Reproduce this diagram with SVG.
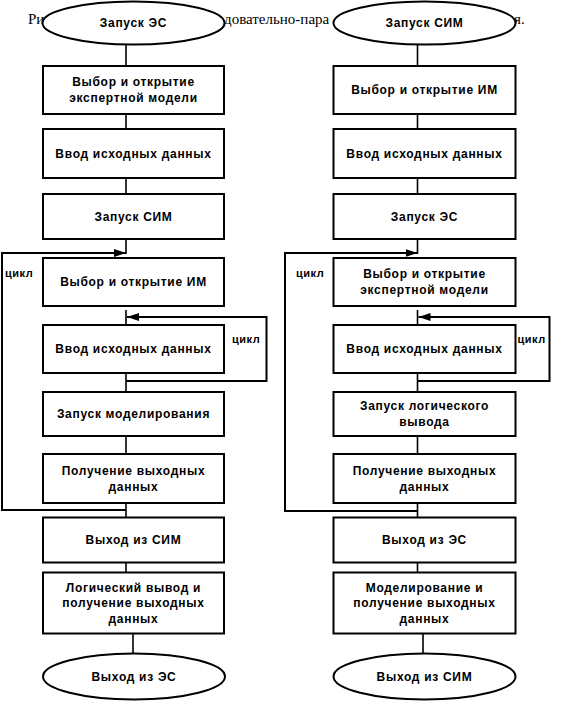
<svg xmlns="http://www.w3.org/2000/svg" width="567" height="712" viewBox="0 0 567 712">
<style>
.cap{font-family:"Liberation Serif","Times New Roman",serif;font-size:15px;fill:#000}
.box{fill:#fff;stroke:#000;stroke-width:2}
.ell{fill:#fff;stroke:#000;stroke-width:2}
.t{font-family:"Liberation Sans",Arial,sans-serif;font-size:12px;font-weight:bold;letter-spacing:0.7px;text-anchor:middle;fill:#000}
.c{fill:none;stroke:#000;stroke-width:1.6}
.l{fill:none;stroke:#000;stroke-width:2}
.lbl{font-family:"Liberation Sans",Arial,sans-serif;font-size:11px;font-weight:bold;letter-spacing:0.5px;fill:#000}
</style>
<defs>
<marker id="arr" markerUnits="userSpaceOnUse" markerWidth="13" markerHeight="9" refX="12" refY="4" orient="auto">
<path d="M0,0 L12,4 L0,8 z" fill="#000"/>
</marker>
</defs>
<rect width="567" height="712" fill="#fff"/>
<g id="caption">
<text class="cap" x="28" y="24">Ри</text>
<text class="cap" x="224" y="24">довательно-пара</text>
<text class="cap" x="514" y="24">я.</text>
</g>
<g id="connectors">
<line class="c" x1="126" y1="44" x2="126" y2="66"/>
<line class="c" x1="126" y1="114" x2="126" y2="129"/>
<line class="c" x1="126" y1="178" x2="126" y2="194"/>
<line class="c" x1="126" y1="239" x2="126" y2="254"/>
<line class="c" x1="126" y1="310" x2="126" y2="325"/>
<line class="c" x1="126" y1="373" x2="126" y2="392"/>
<line class="c" x1="126" y1="436" x2="126" y2="454"/>
<line class="c" x1="126" y1="503" x2="126" y2="517"/>
<line class="c" x1="126" y1="562" x2="126" y2="572"/>
<line class="c" x1="133" y1="633" x2="133" y2="654"/>
<path class="l" d="M126,510 H2 V253 H126" marker-end="url(#arr)"/>
<path class="l" d="M126,381 H266.5 V317 H127" marker-end="url(#arr)"/>
<line class="c" x1="417.5" y1="44" x2="417.5" y2="66"/>
<line class="c" x1="417.5" y1="114" x2="417.5" y2="129"/>
<line class="c" x1="417.5" y1="178" x2="417.5" y2="194"/>
<line class="c" x1="417.5" y1="239" x2="417.5" y2="254"/>
<line class="c" x1="417.5" y1="310" x2="417.5" y2="325"/>
<line class="c" x1="417.5" y1="373" x2="417.5" y2="392"/>
<line class="c" x1="417.5" y1="436" x2="417.5" y2="454"/>
<line class="c" x1="417.5" y1="503" x2="417.5" y2="517"/>
<line class="c" x1="417.5" y1="562" x2="417.5" y2="572"/>
<line class="c" x1="423" y1="633" x2="423" y2="654"/>
<path class="l" d="M417.5,511 H285 V253 H417.5" marker-end="url(#arr)"/>
<path class="l" d="M417.5,381 H549.5 V317 H418.5" marker-end="url(#arr)"/>
<text class="lbl" x="5" y="277">цикл</text>
<text class="lbl" x="232" y="343">цикл</text>
<text class="lbl" x="296" y="277">цикл</text>
<text class="lbl" x="517.5" y="343">цикл</text>
</g>
<g id="L0"><ellipse class="ell" cx="133.5" cy="23" rx="91" ry="21.5"/><text class="t" x="133.5" y="27">Запуск ЭС</text></g>
<g id="L1"><rect class="box" x="43" y="66" width="181" height="48"/><text class="t" x="133.5" y="86">Выбор и открытие</text><text class="t" x="133.5" y="101.5">экспертной модели</text></g>
<g id="L2"><rect class="box" x="43" y="129" width="181" height="49"/><text class="t" x="133.5" y="157.5">Ввод исходных данных</text></g>
<g id="L3"><rect class="box" x="43" y="194" width="181" height="45"/><text class="t" x="133.5" y="220.5">Запуск СИМ</text></g>
<g id="L4"><rect class="box" x="43" y="258" width="181" height="48"/><text class="t" x="133.5" y="286">Выбор и открытие ИМ</text></g>
<g id="L5"><rect class="box" x="43" y="325" width="181" height="48"/><text class="t" x="133.5" y="353">Ввод исходных данных</text></g>
<g id="L6"><rect class="box" x="43" y="392" width="181" height="44"/><text class="t" x="133.5" y="418">Запуск моделирования</text></g>
<g id="L7"><rect class="box" x="43" y="454" width="181" height="49"/><text class="t" x="133.5" y="475">Получение выходных</text><text class="t" x="133.5" y="490.5">данных</text></g>
<g id="L8"><rect class="box" x="43" y="517.5" width="181" height="45"/><text class="t" x="133.5" y="544">Выход из СИМ</text></g>
<g id="L9"><rect class="box" x="43" y="572.5" width="181" height="61"/><text class="t" x="133.5" y="591.5">Логический вывод и</text><text class="t" x="133.5" y="607">получение выходных</text><text class="t" x="133.5" y="622.5">данных</text></g>
<g id="L10"><ellipse class="ell" cx="134" cy="676.5" rx="91" ry="23"/><text class="t" x="134" y="680.5">Выход из ЭС</text></g>
<g id="R0"><ellipse class="ell" cx="424.5" cy="23" rx="91" ry="21.5"/><text class="t" x="424.5" y="27">Запуск СИМ</text></g>
<g id="R1"><rect class="box" x="333.5" y="66" width="182" height="48"/><text class="t" x="424.5" y="94">Выбор и открытие ИМ</text></g>
<g id="R2"><rect class="box" x="333.5" y="129" width="182" height="49"/><text class="t" x="424.5" y="157.5">Ввод исходных данных</text></g>
<g id="R3"><rect class="box" x="333.5" y="194" width="182" height="45"/><text class="t" x="424.5" y="220.5">Запуск ЭС</text></g>
<g id="R4"><rect class="box" x="333.5" y="258" width="182" height="48"/><text class="t" x="424.5" y="278">Выбор и открытие</text><text class="t" x="424.5" y="293.5">экспертной модели</text></g>
<g id="R5"><rect class="box" x="333.5" y="325" width="182" height="48"/><text class="t" x="424.5" y="353">Ввод исходных данных</text></g>
<g id="R6"><rect class="box" x="333.5" y="392" width="182" height="44"/><text class="t" x="424.5" y="410">Запуск логического</text><text class="t" x="424.5" y="425.5">вывода</text></g>
<g id="R7"><rect class="box" x="333.5" y="454" width="182" height="49"/><text class="t" x="424.5" y="475">Получение выходных</text><text class="t" x="424.5" y="490.5">данных</text></g>
<g id="R8"><rect class="box" x="333.5" y="517.5" width="182" height="45"/><text class="t" x="424.5" y="544">Выход из ЭС</text></g>
<g id="R9"><rect class="box" x="333.5" y="572.5" width="182" height="61"/><text class="t" x="424.5" y="591.5">Моделирование и</text><text class="t" x="424.5" y="607">получение выходных</text><text class="t" x="424.5" y="622.5">данных</text></g>
<g id="R10"><ellipse class="ell" cx="424.5" cy="676.5" rx="91" ry="23"/><text class="t" x="424.5" y="680.5">Выход из СИМ</text></g>
</svg>
